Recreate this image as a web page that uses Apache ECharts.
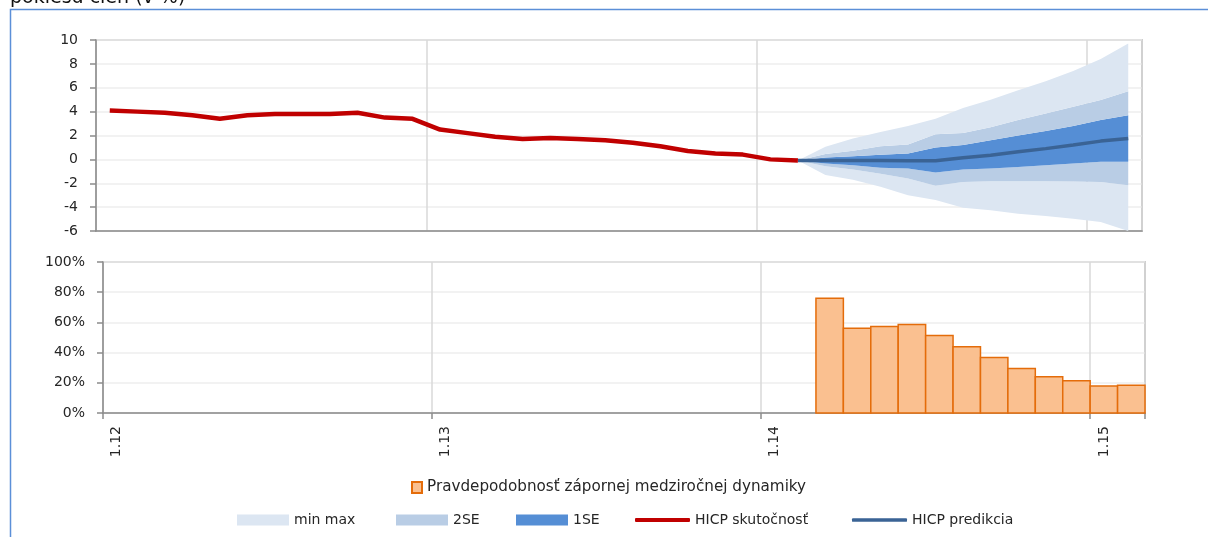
<!DOCTYPE html>
<html>
<head>
<meta charset="utf-8">
<script src="https://cdn.jsdelivr.net/npm/echarts@6/dist/echarts.min.js"></script>
<style>
html,body{margin:0;padding:0;background:#fff;}
#c{width:1208px;height:537px;}
</style>
</head>
<body>
<div id="c"></div>
<script>
// ---- categories (months, m.yy) ----
const months = [
  '1.12','2.12','3.12','4.12','5.12','6.12','7.12','8.12','9.12','10.12','11.12','12.12',
  '1.13','2.13','3.13','4.13','5.13','6.13','7.13','8.13','9.13','10.13','11.13','12.13',
  '1.14','2.14','3.14','4.14','5.14','6.14','7.14','8.14','9.14','10.14','11.14','12.14',
  '1.15','2.15'
];
// ---- HICP actual (from 1.12) ----
const hicpActual = [4.1,4.0,3.9,3.7,3.4,3.7,3.8,3.8,3.8,3.9,3.5,3.4,
                    2.5,2.2,1.9,1.7,1.8,1.7,1.6,1.4,1.1,0.7,0.5,0.4,
                    0.0,-0.1];
// ---- forecast (from 2.14) ----
const forecastStartIndex = 25;
const hicpForecast = [-0.1,-0.1,-0.1,-0.1,-0.12,-0.12,0.13,0.35,0.63,0.9,1.2,1.53,1.75];
const maxUpper = [-0.1,1.05,1.75,2.3,2.8,3.4,4.3,5.0,5.8,6.55,7.4,8.4,9.7];
const se2Upper = [-0.1,0.45,0.72,1.1,1.25,2.1,2.2,2.7,3.3,3.85,4.4,4.97,5.7];
const se1Upper = [-0.1,0.15,0.27,0.38,0.5,1.0,1.2,1.6,2.0,2.37,2.8,3.3,3.7];
const se1Lower = [-0.1,-0.35,-0.5,-0.7,-0.77,-1.1,-0.85,-0.77,-0.63,-0.5,-0.35,-0.2,-0.2];
const se2Lower = [-0.1,-0.57,-0.85,-1.2,-1.6,-2.2,-1.9,-1.83,-1.83,-1.83,-1.85,-1.9,-2.16];
const minLower = [-0.1,-1.3,-1.7,-2.3,-3.0,-3.4,-4.05,-4.27,-4.55,-4.75,-4.97,-5.25,-6.0];
// ---- probability of negative y/y dynamics (from 3.14), % ----
const probStartIndex = 26;
const negProb = [76,56.2,57.3,58.6,51.3,43.8,36.8,29.5,24,21.4,17.8,18.3];

const nameProb = 'Pravdepodobnosť zápornej medziročnej dynamiky';
const nameMinMax = 'min max', name2SE = '2SE', name1SE = '1SE';
const nameActual = 'HICP skutočnosť', nameForecast = 'HICP predikcia';

function place(arr, start) {
  const out = months.map(() => null);
  arr.forEach((v, i) => { out[start + i] = v; });
  return out;
}
function diff(a, b) { return a.map((v, i) => +(v - b[i]).toFixed(4)); }

const FONT = 'DejaVu Sans';
const axisCol = '#8c8c8c';
const labelCol = '#262626';

const bandSeries = [
  { name: '_base', data: minLower, area: null },
  { name: nameMinMax, data: diff(se2Lower, minLower), area: '#dce6f2' },
  { name: name2SE, data: diff(se1Lower, se2Lower), area: '#b9cde5' },
  { name: name1SE, data: diff(se1Upper, se1Lower), area: '#558ed5' },
  { name: name2SE, data: diff(se2Upper, se1Upper), area: '#b9cde5' },
  { name: nameMinMax, data: diff(maxUpper, se2Upper), area: '#dce6f2' }
].map(b => ({
  type: 'line',
  name: b.name,
  xAxisIndex: 0, yAxisIndex: 0,
  stack: 'fan',
  stackStrategy: 'all',
  data: place(b.data, forecastStartIndex),
  symbol: 'none',
  silent: true,
  color: b.area || '#ffffff',
  lineStyle: { width: 0 },
  areaStyle: b.area ? { color: b.area, opacity: 1 } : undefined,
  z: 2
}));

const chart = echarts.init(document.getElementById('c'), null, { renderer: 'canvas' });

const legendBase = {
  orient: 'horizontal', padding: 0, itemGap: 0, selectedMode: false,
  textStyle: { fontFamily: FONT, fontSize: 14, color: labelCol }
};

chart.setOption({
  animation: false,
  backgroundColor: '#ffffff',
  textStyle: { fontFamily: FONT },
  graphic: [
    { type: 'rect', silent: true, z: 100,
      shape: { x: 10.5, y: 9.5, width: 1400, height: 800 },
      style: { fill: 'none', stroke: '#5b8fd8', lineWidth: 1.5 } },
    { type: 'text', silent: true, z: 100, x: 10, y: -11,
      style: { text: 'poklesu cien (v %)', font: '19px "DejaVu Sans"', fill: '#111', textVerticalAlign: 'top' } }
  ],
  grid: [
    { left: 96, top: 40, width: 1046, height: 191, show: true, borderColor: '#a6a6a6', borderWidth: 1.5, backgroundColor: 'transparent' },
    { left: 103, top: 262, width: 1042, height: 151, show: true, borderColor: '#a6a6a6', borderWidth: 1.5, backgroundColor: 'transparent' }
  ],
  xAxis: [
    { type: 'category', gridIndex: 0, data: months, boundaryGap: true,
      axisLine: { onZero: false, lineStyle: { color: axisCol, width: 1.5 } },
      axisTick: { show: false, interval: 11 },
      axisLabel: { show: false, interval: 11 },
      splitLine: { show: true, interval: 11, lineStyle: { color: '#d9d9d9', width: 1.5 } } },
    { type: 'category', gridIndex: 1, data: months, boundaryGap: true,
      axisLine: { onZero: false, lineStyle: { color: axisCol, width: 1.5 } },
      axisTick: { show: true, interval: 11, length: 6, lineStyle: { color: axisCol, width: 1.5 } },
      axisLabel: { show: true, interval: 11, rotate: 90, margin: 13, fontFamily: FONT, fontSize: 14, color: labelCol },
      splitLine: { show: true, interval: 11, lineStyle: { color: '#d9d9d9', width: 1.5 } } }
  ],
  yAxis: [
    { type: 'value', gridIndex: 0, min: -6, max: 10, interval: 2,
      axisLine: { show: true, lineStyle: { color: axisCol, width: 1.5 } },
      axisTick: { show: true, length: 6, lineStyle: { color: axisCol, width: 1.5 } },
      axisLabel: { margin: 18, fontFamily: FONT, fontSize: 14, color: labelCol },
      splitLine: { show: true, lineStyle: { color: '#eeeeee', width: 1.5 } } },
    { type: 'value', gridIndex: 1, min: 0, max: 100, interval: 20,
      axisLine: { show: true, lineStyle: { color: axisCol, width: 1.5 } },
      axisTick: { show: true, length: 6, lineStyle: { color: axisCol, width: 1.5 } },
      axisLabel: { margin: 18, fontFamily: FONT, fontSize: 14, color: labelCol, formatter: '{value}%' },
      splitLine: { show: true, lineStyle: { color: '#eeeeee', width: 1.5 } } }
  ],
  legend: [
    Object.assign({}, legendBase, { left: 411, top: 480, itemWidth: 10, itemHeight: 11,
      textStyle: { fontFamily: FONT, fontSize: 15.2, color: labelCol },
      data: [{ name: nameProb, icon: 'rect' }] }),
    Object.assign({}, legendBase, { left: 237, top: 513, itemWidth: 52, itemHeight: 11, data: [{ name: nameMinMax, icon: 'rect' }] }),
    Object.assign({}, legendBase, { left: 396, top: 513, itemWidth: 52, itemHeight: 11, data: [{ name: name2SE, icon: 'rect' }] }),
    Object.assign({}, legendBase, { left: 516, top: 513, itemWidth: 52, itemHeight: 11, data: [{ name: name1SE, icon: 'rect' }] }),
    Object.assign({}, legendBase, { left: 635, top: 513, itemWidth: 55, itemHeight: 4, data: [{ name: nameActual, icon: 'roundRect' }] }),
    Object.assign({}, legendBase, { left: 852, top: 513, itemWidth: 55, itemHeight: 3.5, data: [{ name: nameForecast, icon: 'roundRect' }] })
  ],
  series: bandSeries.concat([
    { type: 'line', name: nameForecast, xAxisIndex: 0, yAxisIndex: 0,
      data: place(hicpForecast, forecastStartIndex), symbol: 'none', color: '#3a6395',
      lineStyle: { width: 3.5, color: '#3a6395' }, z: 5 },
    { type: 'line', name: nameActual, xAxisIndex: 0, yAxisIndex: 0,
      data: place(hicpActual, 0), symbol: 'none', color: '#c00000',
      lineStyle: { width: 4.5, color: '#c00000' }, z: 6 },
    { type: 'custom', name: nameProb, xAxisIndex: 1, yAxisIndex: 1,
      data: negProb.map((v, i) => [probStartIndex + i, v]),
      encode: { x: 0, y: 1 },
      itemStyle: { color: '#fac090', borderColor: '#e46c0a', borderWidth: 1.5 },
      z: 3,
      renderItem: function (params, api) {
        const idx = api.value(0), v = api.value(1);
        const top = api.coord([idx, v]);
        const base = api.coord([idx, 0]);
        const bw = api.size([1, 0])[0];
        return {
          type: 'rect',
          shape: { x: top[0] - bw / 2, y: top[1], width: bw, height: base[1] - top[1] },
          style: api.style()
        };
      } }
  ])
});
</script>
</body>
</html>
